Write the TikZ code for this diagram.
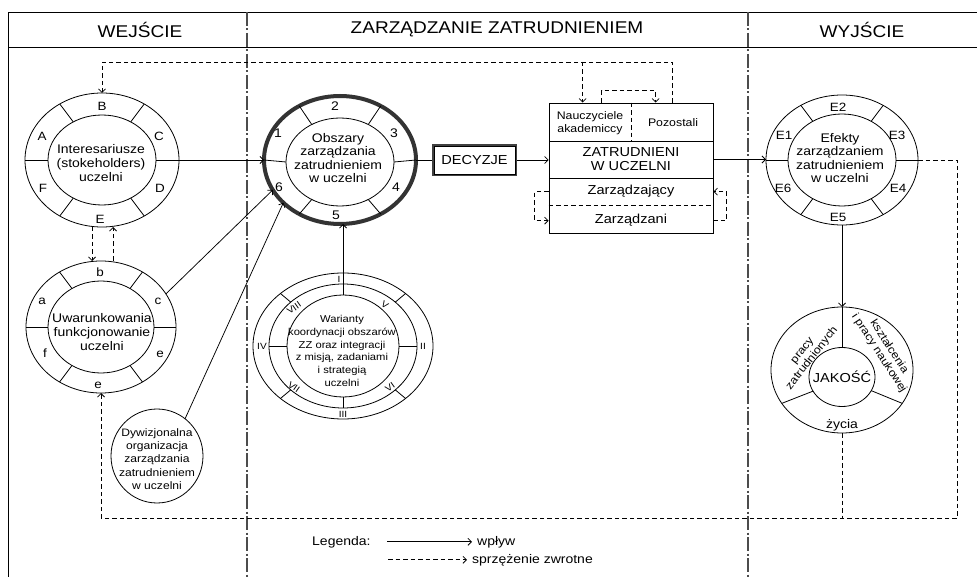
\documentclass[tikz,border=0pt]{standalone}
\usepackage{fontspec}
\setmainfont{Liberation Sans}[FakeStretch=1.12]
\usetikzlibrary{shapes.geometric,arrows.meta,calc}
\newcommand{\fs}[2]{\fontsize{#1}{#2}\selectfont}
\begin{document}
\begin{tikzpicture}[x=1pt,y=-1pt,
  ln/.style={line width=0.8pt},
  infl/.style={draw, line width=0.75pt, -{Straight Barb[length=3.5pt,width=7pt]}},
  fb/.style={draw, line width=0.75pt, dash pattern=on 4.5pt off 3pt, -{Straight Barb[length=3.5pt,width=7pt]}},
  fbl/.style={draw, line width=0.75pt, dash pattern=on 4.5pt off 3pt},
  ell/.style={ellipse, draw, line width=0.8pt, inner sep=0pt, outer sep=0pt},
  txt/.style={align=center, inner sep=0pt, font=\fs{12.5}{14}},
  lab/.style={inner sep=0pt, font=\fs{12}{13}},
  rom/.style={inner sep=0pt, font=\fs{9}{10}},
  divider/.style={draw=black!70, line width=2.4pt, dash pattern=on 14pt off 2.5pt on 2pt off 2.5pt},
  hdr/.style={inner sep=0pt, font=\fs{17}{20}}
]
\useasboundingbox (0,0) rectangle (977,577);
\fill[white] (0,0) rectangle (977,577);

% frame and headers
\coordinate (tl) at (8,12); \coordinate (tr) at (977,12); \coordinate (bl0) at (8,577);
\coordinate (hl) at (8,47); \coordinate (hr) at (977,47);
\draw[ln] (bl0) -- (tl) -- (tr);
\draw[ln] (hl) -- (hr);
\coordinate (d1t) at (247,12); \coordinate (d1b) at (247,577);
\coordinate (d2t) at (748,12); \coordinate (d2b) at (748,577);
\draw[divider] (d1t) -- (d1b);
\draw[divider] (d2t) -- (d2b);
\node[hdr] (h1) at (140,30) {WEJŚCIE};
\node[hdr] (h2) at (497,29) {ZARZĄDZANIE ZATRUDNIENIEM};
\node[hdr] (h3) at (862,30) {WYJŚCIE};

% Interesariusze
\node[ell, minimum width=154pt, minimum height=134pt] (intO) at (102,160) {};
\node[ell, minimum width=108pt, minimum height=90pt] (intI) at (102,160) {};
\node[txt] (intT) at (101,163) {Interesariusze\\(stokeholders)\\uczelni};
\foreach \a in {0,53,127,180,233,307} \draw[ln] (intI.\a) -- (intO.\a);
\node[lab] (lB) at (102,106) {B};
\node[lab] (lA) at (42,136) {A};
\node[lab] (lC) at (159,136) {C};
\node[lab] (lF) at (43,188) {F};
\node[lab] (lD) at (160,188) {D};
\node[lab] (lE) at (100,219) {E};

% Uwarunkowania
\node[ell, minimum width=150pt, minimum height=132pt] (uwO) at (101,327) {};
\node[ell, minimum width=106pt, minimum height=92pt] (uwI) at (101,327) {};
\node[txt] (uwT) at (102,332) {Uwarunkowania\\funkcjonowanie\\uczelni};
\foreach \a in {0,53,127,180,233,307} \draw[ln] (uwI.\a) -- (uwO.\a);
\node[lab] (lb) at (100,272) {b};
\node[lab] (la) at (42,301) {a};
\node[lab] (lc) at (158,301) {c};
\node[lab] (lf) at (45,353) {f};
\node[lab] (le1) at (160,354) {e};
\node[lab] (le2) at (98,385) {e};

% Dywizjonalna
\node[ell, minimum width=92pt, minimum height=94pt] (dyw) at (157,456) {};
\node[align=center, inner sep=0pt, font=\fs{10.8}{13.3}] (dywT) at (157,459)
  {Dywizjonalna\\organizacja\\zarządzania\\zatrudnieniem\\w uczelni};

% Obszary
\node[ell, draw=black!80, line width=4pt, minimum width=152pt, minimum height=128pt] (obO) at (340,160) {};
\node[ell, minimum width=108pt, minimum height=88pt] (obI) at (340,162) {};
\node[txt, font=\fs{12.5}{13.5}] (obT) at (338,158) {Obszary\\zarządzania\\zatrudnieniem\\w uczelni};
\foreach \a in {0,53,127,180,233,307} \draw[ln] (obI.\a) -- (obO.\a);
\node[lab, font=\fs{12.5}{14}] (n1) at (278,133) {1};
\node[lab, font=\fs{12.5}{14}] (n2) at (335,106) {2};
\node[lab, font=\fs{12.5}{14}] (n3) at (394,133) {3};
\node[lab, font=\fs{12.5}{14}] (n4) at (396,187) {4};
\node[lab, font=\fs{12.5}{14}] (n5) at (336,215) {5};
\node[lab, font=\fs{12.5}{14}] (n6) at (279,187) {6};

% Warianty
\node[ell, minimum width=180pt, minimum height=146pt] (warO) at (343,346) {};
\node[ell, minimum width=148pt, minimum height=124pt] (warM) at (343,346) {};
\node[ell, minimum width=112pt, minimum height=102pt] (warI) at (343,346) {};
\foreach \a in {0,90,180,270} \draw[ln] (warI.\a) -- (warM.\a);
\foreach \a in {40,140,220,320} \draw[ln] (warM.\a) -- (warO.\a);
\node[align=center, inner sep=0pt, font=\fs{10}{12.7}] (warT) at (342,351)
  {Warianty\\koordynacji obszarów\\ZZ oraz integracji\\z misją, zadaniami\\i strategią\\uczelni};
\node[rom] (rI) at (339,279) {I};
\node[rom] (rII) at (423,346) {II};
\node[rom] (rIII) at (343,414) {III};
\node[rom] (rIV) at (262,346) {IV};
\node[rom, rotate=-35] (rV) at (385,305) {V};
\node[rom, rotate=35] (rVI) at (390,387) {VI};
\node[rom, rotate=-35] (rVII) at (294,387) {VII};
\node[rom, rotate=35] (rVIII) at (294,308) {VIII};

% DECYZJE
\node[draw=black!75, line width=2.5pt, minimum width=83pt, minimum height=30pt, inner sep=0pt, font=\fs{13}{15}] (dec) at (474.5,160) {DECYZJE};
\draw[line width=0.6pt] ($(dec.south west)+(2.2,-2.2)$) rectangle ($(dec.north east)+(-2.2,2.2)$);

% Employees box
\node[draw, ln, minimum width=164pt, minimum height=38pt, inner sep=0pt] (top) at (631,122) {};
\node[draw, ln, minimum width=164pt, minimum height=37pt, inner sep=0pt, align=center, font=\fs{13}{14}] (zat) at (631,159.5) {ZATRUDNIENI\\W UCZELNI};
\node[draw, ln, minimum width=164pt, minimum height=55pt, inner sep=0pt] (bot) at (631,205.5) {};
\draw[fbl] (top.north) -- (top.south);
\draw[fbl] (bot.west) -- (bot.east);
\node[align=center, inner sep=0pt, font=\fs{11}{12.5}] (nau) at (590,123) {Nauczyciele\\akademiccy};
\node[inner sep=0pt, font=\fs{11}{12.5}] (poz) at (673,123) {Pozostali};
\node[inner sep=0pt, anchor=base, font=\fs{13}{14}] (zj) at (631,195) {Zarządzający};
\node[inner sep=0pt, anchor=base, font=\fs{13}{14}] (zi) at (631,224) {Zarządzani};

% Efekty
\node[ell, minimum width=152pt, minimum height=130pt] (efO) at (842,160) {};
\node[ell, minimum width=108pt, minimum height=92pt] (efI) at (842,160) {};
\node[txt, font=\fs{12.5}{13.3}] (efT) at (840,158) {Efekty\\zarządzaniem\\zatrudnieniem\\w uczelni};
\foreach \a in {0,53,127,180,233,307} \draw[ln] (efI.\a) -- (efO.\a);
\node[lab] (e1) at (784,135) {E1};
\node[lab] (e2) at (838,107) {E2};
\node[lab] (e3) at (897,135) {E3};
\node[lab] (e4) at (898,188) {E4};
\node[lab] (e5) at (838,217) {E5};
\node[lab] (e6) at (783,188) {E6};

% Jakosc
\node[ell, minimum width=142pt, minimum height=126pt] (jakO) at (842,370) {};
\node[ell, minimum width=66pt, minimum height=59pt] (jakI) at (842,377) {};
\draw[ln] (jakI.north) -- (jakO.north);
\draw[ln] (jakI.206) -- (jakO.209);
\draw[ln] (jakI.335) -- (jakO.331);
\node[inner sep=0pt, font=\fs{13}{15}] (jakT) at (842,377) {JAKOŚĆ};
\node[align=center, inner sep=0pt, rotate=52, font=\fs{11}{12}] (jak1) at (808,355) {pracy\\zatrudnionych};
\node[align=center, inner sep=0pt, rotate=-57, font=\fs{11}{12}] (jak2) at (884,350) {kształcenia\\i pracy naukowej};
\node[inner sep=0pt, font=\fs{12.5}{14}] (jak3) at (842,425) {życia};

% influence arrows
\draw[infl] (intO.east) -- (obO.west);
\draw[infl] (uwO.27) -- (obO.204);
\draw[infl] (dyw.53) -- (obO.217);
\draw[infl] (warI.north) -- (warI.north |- obO.south);
\draw[ln] (obO.east) -- (dec.west);
\draw[infl] (dec.east) -- (dec.east -| zat.west);
\draw[infl] (zat.east) -- (zat.east -| efO.west);
\draw[infl] (efO.south) -- (jakO.north);

% feedback arrows
\coordinate (ytop) at (0,62);
\coordinate (p1) at ($(top.north east)+(-41,0)$);
\draw[fb] (p1) -- (p1 |- ytop) -| (intO.north);
\coordinate (p2) at ($(top.north west)+(34,0)$);
\draw[fb] (p2 |- ytop) -- (p2);
\coordinate (p3) at ($(top.north west)+(53,0)$);
\coordinate (p4) at ($(top.north west)+(107,0)$);
\draw[fb] (p3) -- ++(0,-12) -| (p4);
\draw[fb] (zj -| bot.west) -- ++(-14,0) |- (zi -| bot.west);
\draw[fb] (zi -| bot.east) -- ++(13,0) |- (zj -| bot.east);

\coordinate (xa) at (92,0); \coordinate (xb) at (113,0);
\draw[fb] (xa |- intO.south) -- (xa |- uwO.north);
\draw[fb] (xb |- uwO.north) -- (xb |- intO.south);

\coordinate (yb) at (0,518); \coordinate (xr) at (957,0);
\draw[fb] (efO.east) -- (efO.east -| xr) -- (xr |- yb) -- (uwO.south |- yb) -- (uwO.south);
\draw[fbl] (jakO.south) -- (jakO.south |- yb);

% legend
\node[anchor=base west, inner sep=0pt, font=\fs{12.5}{14}] (leg) at (312,545) {Legenda:};
\node[anchor=base west, inner sep=0pt, font=\fs{12.5}{14}] (wp) at (477,545) {wpływ};
\node[anchor=base west, inner sep=0pt, font=\fs{12.5}{14}] (sz) at (472,563) {sprzężenie zwrotne};
\coordinate (la1) at (387,0); \coordinate (la2) at (388,0);
\draw[infl] (la1 |- wp.west) -- ($(wp.west)+(-5,0)$);
\draw[fb] (la2 |- sz.west) -- ($(sz.west)+(-5,0)$);
\end{tikzpicture}
\end{document}
